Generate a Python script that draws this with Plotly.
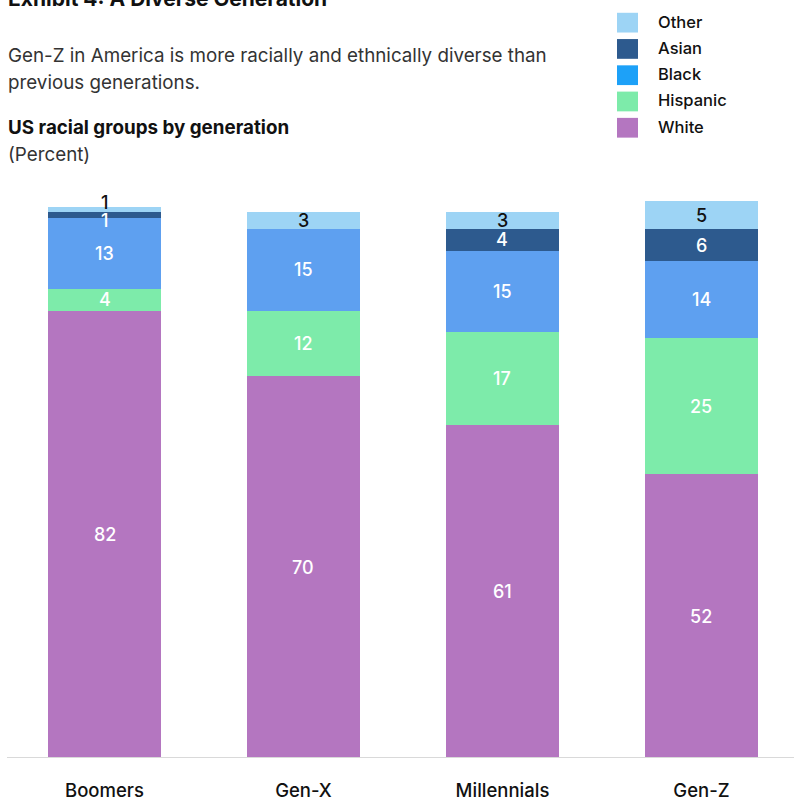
import plotly.graph_objects as go

generations = ["Boomers", "Gen-X", "Millennials", "Gen-Z"]
groups = ["White", "Hispanic", "Black", "Asian", "Other"]
white = [82, 70, 61, 52]
hispanic = [4, 12, 17, 25]
black = [13, 15, 15, 14]
asian = [1, 0, 4, 6]
other = [1, 3, 3, 5]
series = {"White": white, "Hispanic": hispanic, "Black": black, "Asian": asian, "Other": other}

bar_colors = {"White": "#B476C0", "Hispanic": "#7DEBAA", "Black": "#5EA0F0",
              "Asian": "#2D5A8E", "Other": "#9DD4F5"}
legend_colors = {"White": "#B476C0", "Hispanic": "#7DEBAA", "Black": "#1DA1F8",
                 "Asian": "#2D5A8E", "Other": "#9DD4F5"}
label_colors = {"White": "white", "Hispanic": "white", "Black": "white",
                "Asian": "white", "Other": "#111111"}

W, H = 794, 801
ML, MR, MT, MB = 5, 0, 196, 36
PH = H - MT - MB
PW = W - ML - MR

def py(p):
    return (H - MB - p) / PH

def px(p):
    return (p - ML) / PW

FONT = "Inter, Roboto, sans-serif"

fig = go.Figure()
for g in groups:
    fig.add_trace(go.Bar(x=generations, y=series[g], name=g,
                         marker=dict(color=bar_colors[g], line=dict(width=0)),
                         showlegend=False, hoverinfo="skip"))

annotations = []
nudges = {(0, "Other"): 7, (0, "Asian"): -5}
for i, gen in enumerate(generations):
    base = 0
    for g in groups:
        v = series[g][i]
        if v > 0:
            annotations.append(dict(x=gen, y=base + v / 2, xref="x", yref="y",
                                    text=str(v), showarrow=False,
                                    yshift=nudges.get((i, g), 0),
                                    font=dict(family=FONT, size=18, color=label_colors[g], weight=500)))
        base += v

# Titles
TX = px(6)
annotations.append(dict(x=TX, y=py(11), xref="paper", yref="paper", xanchor="left", yanchor="bottom",
                        text="<b>Exhibit 4: A Diverse Generation</b>", showarrow=False,
                        font=dict(family=FONT, size=21, color="#111111")))
annotations.append(dict(x=TX, y=py(54), xref="paper", yref="paper", xanchor="left", yanchor="middle",
                        text="Gen-Z in America is more racially and ethnically diverse than",
                        showarrow=False, font=dict(family=FONT, size=18.8, color="#333333")))
annotations.append(dict(x=TX, y=py(81), xref="paper", yref="paper", xanchor="left", yanchor="middle",
                        text="previous generations.",
                        showarrow=False, font=dict(family=FONT, size=18.8, color="#333333")))
annotations.append(dict(x=TX, y=py(127), xref="paper", yref="paper", xanchor="left", yanchor="middle",
                        text="<b>US racial groups by generation</b>", showarrow=False,
                        font=dict(family=FONT, size=18.8, color="#111111")))
annotations.append(dict(x=TX, y=py(154), xref="paper", yref="paper", xanchor="left", yanchor="middle",
                        text="(Percent)", showarrow=False,
                        font=dict(family=FONT, size=18.8, color="#333333")))

# Legend
shapes = []
legend_order = ["Other", "Asian", "Black", "Hispanic", "White"]
for k, g in enumerate(legend_order):
    cy = 20.5 + k * 26.6
    shapes.append(dict(type="rect", xref="paper", yref="paper",
                       x0=px(617), x1=px(638), y0=py(cy + 10), y1=py(cy - 10),
                       fillcolor=legend_colors[g], line=dict(width=0)))
    annotations.append(dict(x=px(656), y=py(cy - 1), xref="paper", yref="paper",
                            xanchor="left", yanchor="middle", text=g, showarrow=False,
                            font=dict(family=FONT, size=16.5, color="#111111", weight=500)))

# Baseline
shapes.append(dict(type="line", xref="paper", yref="y", x0=px(7), x1=1, y0=0, y1=0,
                   line=dict(color="#D9D9D9", width=2)))

fig.update_layout(
    width=W, height=H, margin=dict(l=ML, r=MR, t=MT, b=MB),
    barmode="stack", bargap=0.432,
    plot_bgcolor="white", paper_bgcolor="white",
    xaxis=dict(range=[-0.5, 3.465], showgrid=False, zeroline=False, showline=False,
               ticks="", tickfont=dict(family=FONT, size=18.5, color="#111111", weight=500),
               ticklabelstandoff=19),
    yaxis=dict(range=[0, 103], showgrid=False, zeroline=False, showline=False,
               showticklabels=False),
    annotations=annotations, shapes=shapes, showlegend=False,
)

fig.write_html("out.html", config={"displayModeBar": False},
               post_script="document.body.style.margin='0';document.body.style.overflow='hidden';")
